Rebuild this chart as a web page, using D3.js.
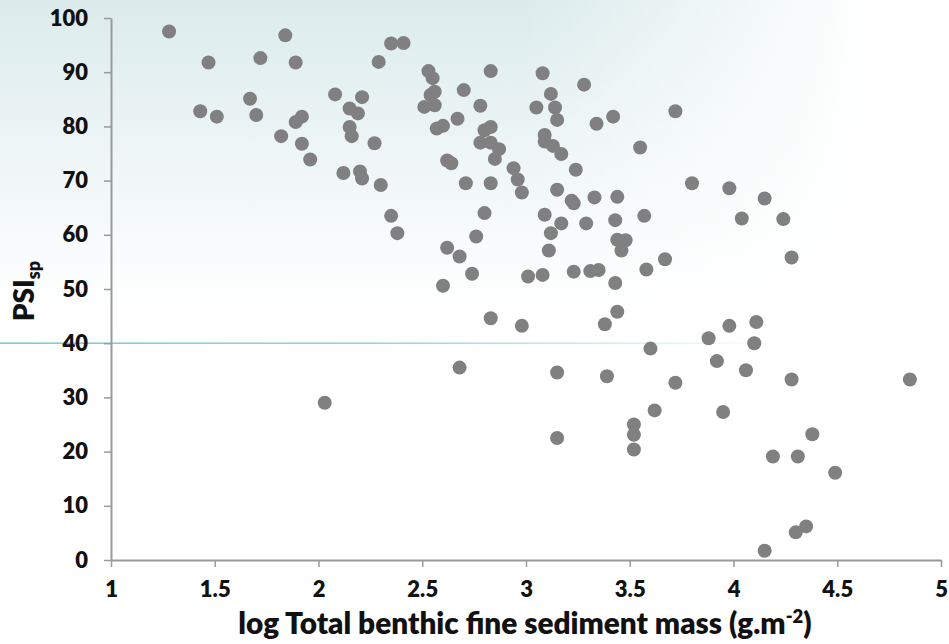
<!DOCTYPE html>
<html>
<head>
<meta charset="utf-8">
<script src="https://cdn.jsdelivr.net/npm/d3@7/dist/d3.min.js"></script>
<style>
  html, body { margin: 0; padding: 0; background: #fff; }
  svg { display: block; }
</style>
</head>
<body>
<div id="chart"></div>
<script>
// Sediment mass (log g.m-2) vs PSIsp, one entry per site
const logMass = [
  1.28, 1.43, 1.47, 1.51, 1.67, 1.70, 1.72, 1.84, 1.89, 1.82,
  1.89, 1.92, 1.92, 1.96, 2.08, 2.21, 2.15, 2.19, 2.15, 2.16,
  2.12, 2.20, 2.21, 2.27, 2.29, 2.35, 2.41, 2.30, 2.35, 2.38,
  2.53, 2.55, 2.56, 2.54, 2.51, 2.56, 2.70, 2.78, 2.67, 2.57,
  2.60, 2.62, 2.64, 2.83, 2.80, 2.83, 2.78, 2.83, 2.87, 2.85,
  2.71, 2.83, 2.94, 2.96, 2.98, 3.08, 3.12, 3.05, 3.14, 3.15,
  3.09, 3.09, 3.13, 3.17, 3.24, 3.28, 3.34, 3.42, 3.15, 3.22,
  3.23, 3.33, 3.44, 3.72, 3.55, 3.80, 3.98, 4.15, 3.43, 3.57,
  4.04, 4.24, 3.44, 3.48, 3.46, 4.28, 3.67, 3.58, 3.35, 3.43,
  3.44, 2.80, 2.76, 2.62, 2.68, 2.74, 2.60, 3.09, 3.17, 3.29,
  3.12, 3.11, 3.01, 3.08, 3.23, 3.31, 3.38, 2.83, 2.98, 2.68,
  3.15, 3.39, 2.03, 3.15, 3.52, 3.52, 3.52, 3.60, 3.72, 3.62,
  3.88, 3.98, 3.92, 3.95, 4.11, 4.10, 4.06, 4.28, 4.85, 4.38,
  4.19, 4.31, 4.49, 4.35, 4.30, 4.15
];
const psi = [
  97.5, 82.8, 91.8, 81.8, 85.1, 82.1, 92.6, 96.8, 91.8, 78.2,
  80.8, 81.8, 76.8, 73.9, 85.9, 85.4, 83.3, 82.4, 79.9, 78.2,
  71.4, 71.7, 70.4, 76.9, 91.9, 95.3, 95.4, 69.2, 63.5, 60.3,
  90.2, 88.9, 86.4, 85.8, 83.6, 83.9, 86.7, 83.8, 81.4, 79.6,
  80.1, 73.7, 73.2, 90.2, 79.3, 79.9, 77.0, 77.0, 75.8, 74.0,
  69.5, 69.5, 72.3, 70.2, 67.8, 89.8, 86.0, 83.5, 83.5, 81.2,
  78.4, 77.2, 76.4, 74.9, 72.0, 87.7, 80.5, 81.8, 68.3, 66.3,
  65.8, 66.9, 67.0, 82.8, 76.1, 69.5, 68.6, 66.7, 62.7, 63.5,
  63.0, 62.9, 59.1, 59.0, 57.1, 55.8, 55.5, 53.6, 53.5, 51.1,
  45.8, 64.0, 59.7, 57.6, 56.0, 52.8, 50.6, 63.7, 62.1, 62.1,
  60.3, 57.1, 52.3, 52.6, 53.2, 53.3, 43.5, 44.6, 43.2, 35.5,
  34.6, 33.9, 29.0, 22.5, 25.0, 23.1, 20.4, 39.0, 32.7, 27.6,
  40.9, 43.2, 36.7, 27.3, 43.9, 40.0, 35.0, 33.3, 33.3, 23.2,
  19.1, 19.1, 16.1, 6.2, 5.1, 1.7
];
const xTicks = [1, 1.5, 2, 2.5, 3, 3.5, 4, 4.5, 5];
const yTicks = [0, 10, 20, 30, 40, 50, 60, 70, 80, 90, 100];
const guideValue = 40; // teal slide rule at this PSI level

const W = 949, H = 644;
const M = { top: 18, right: 8, bottom: 84, left: 111 };
const FONT = 'Lato, "Liberation Sans", sans-serif';
const AXIS_GREY = '#9a9a9a';

const svg = d3.select('#chart').append('svg')
  .attr('width', W).attr('height', H);

const defs = svg.append('defs');
const bgV = defs.append('linearGradient').attr('id', 'bgV')
  .attr('x1', 0).attr('y1', 0).attr('x2', 0).attr('y2', 1);
bgV.append('stop').attr('offset', '0%').attr('stop-color', '#dbebec');
bgV.append('stop').attr('offset', '20%').attr('stop-color', '#ebf4f5');
bgV.append('stop').attr('offset', '38%').attr('stop-color', '#f8fbfc');
bgV.append('stop').attr('offset', '48%').attr('stop-color', '#ffffff');

const bgH = defs.append('linearGradient').attr('id', 'bgH')
  .attr('x1', 0).attr('y1', 0).attr('x2', 1).attr('y2', 0);
bgH.append('stop').attr('offset', '55%').attr('stop-color', '#fff').attr('stop-opacity', 0);
bgH.append('stop').attr('offset', '92%').attr('stop-color', '#fff').attr('stop-opacity', 1);

const rule = defs.append('linearGradient').attr('id', 'rule')
  .attr('x1', 0).attr('y1', 0).attr('x2', 1).attr('y2', 0);
rule.append('stop').attr('offset', '0%').attr('stop-color', '#7cc6c8').attr('stop-opacity', 1);
rule.append('stop').attr('offset', '40%').attr('stop-color', '#7cc6c8').attr('stop-opacity', 0.8);
rule.append('stop').attr('offset', '82%').attr('stop-color', '#7cc6c8').attr('stop-opacity', 0);

svg.append('rect').attr('width', W).attr('height', H).attr('fill', 'url(#bgV)');
svg.append('rect').attr('width', W).attr('height', H).attr('fill', 'url(#bgH)');

const x = d3.scaleLinear().domain([1, 5]).range([M.left, W - M.right]);
const y = d3.scaleLinear().domain([0, 100]).range([H - M.bottom, M.top]);

// decorative teal rule
svg.append('rect')
  .attr('x', 0).attr('y', y(guideValue) - 0.75)
  .attr('width', W).attr('height', 1.5)
  .attr('fill', 'url(#rule)');

// axes
const yAxis = svg.append('g')
  .attr('transform', `translate(${M.left},0)`)
  .call(d3.axisLeft(y).tickValues(yTicks).tickSize(7).tickSizeOuter(0).tickPadding(16));
const xAxis = svg.append('g')
  .attr('transform', `translate(0,${H - M.bottom})`)
  .call(d3.axisBottom(x).tickValues(xTicks).tickFormat(d3.format('~g'))
    .tickSize(7).tickSizeOuter(0).tickPadding(14));

[yAxis, xAxis].forEach(a => {
  a.select('.domain').attr('stroke', AXIS_GREY).attr('stroke-width', 2);
  a.selectAll('.tick line').attr('stroke', AXIS_GREY).attr('stroke-width', 1.5);
  a.selectAll('.tick text')
    .attr('font-family', FONT).attr('font-size', 22).attr('font-weight', 800)
    .attr('fill', '#111');
});

// points
svg.append('g').selectAll('circle')
  .data(d3.zip(logMass, psi))
  .join('circle')
  .attr('cx', d => x(d[0]))
  .attr('cy', d => y(d[1]))
  .attr('r', 7)
  .attr('fill', '#808080');

// x title, sized so it spans roughly the same width as the slide's title
const xt = svg.append('text')
  .attr('x', 525).attr('y', 634)
  .attr('text-anchor', 'middle')
  .attr('font-family', FONT).attr('font-size', 24).attr('font-weight', 800)
  .attr('fill', '#111');
xt.append('tspan').text('log Total benthic fine sediment mass (g.m');
const sup = xt.append('tspan').attr('dy', -10).attr('font-size', 16).text('-2');
const close = xt.append('tspan').attr('dy', 10).text(')');
const w0 = xt.node().getComputedTextLength();
const fs = 24 * 575 / w0;
xt.attr('font-size', fs);
sup.attr('font-size', fs * 0.62).attr('dy', -fs * 0.38);
close.attr('dy', fs * 0.38);

// y title
const yt = svg.append('text')
  .attr('transform', `translate(34,${y(50) + 2}) rotate(-90)`)
  .attr('text-anchor', 'middle')
  .attr('font-family', FONT).attr('font-size', 28).attr('font-weight', 800)
  .attr('fill', '#111');
yt.append('tspan').text('PSI');
yt.append('tspan').attr('dy', 6).attr('font-size', 18).text('sp');
</script>
</body>
</html>
